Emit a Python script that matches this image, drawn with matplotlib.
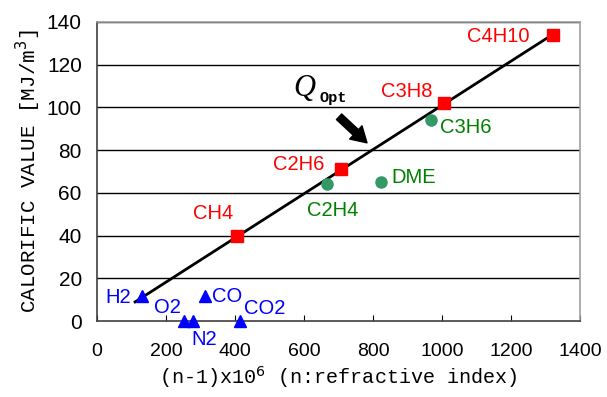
import matplotlib
matplotlib.use("Agg")
import matplotlib.pyplot as plt

# data
red_names = ["CH4", "C2H6", "C3H8", "C4H10"]
red_x = [404, 707, 1005, 1322]
red_y = [40, 71, 102, 134]

green_names = ["C2H4", "DME", "C3H6"]
green_x = [667, 823, 966]
green_y = [64, 65, 94]

blue_names = ["H2", "O2", "N2", "CO", "CO2"]
blue_x = [129, 252, 278, 312, 415]
blue_y = [12, 0, 0, 12, 0]

fit_x = [110, 1322]
fit_y = [9, 134.3]

x_ticks = [0, 200, 400, 600, 800, 1000, 1200, 1400]
y_ticks = [0, 20, 40, 60, 80, 100, 120, 140]

sans = ["Liberation Sans", "DejaVu Sans"]
mono = ["Liberation Mono", "DejaVu Sans Mono"]

fig = plt.figure(figsize=(6.07, 3.97), dpi=100)
ax = fig.add_axes([0.16, 0.191, 0.796, 0.754])

for y in y_ticks[1:]:
    ax.axhline(y, color="black", lw=1.0, zorder=1)

ax.plot(fit_x, fit_y, color="black", lw=2, zorder=2)
ax.plot(red_x, red_y, "s", color="#FF0000", ms=8.5, zorder=3, clip_on=False)
ax.plot(green_x, green_y, "o", color="#339966", ms=8, zorder=3, clip_on=False)
ax.plot(blue_x, blue_y, "^", color="#0000FF", ms=9, zorder=3, clip_on=False)

# label centre offsets in pixels (x right, y up)
red_off = {"CH4": (-23, 22), "C2H6": (-42, 5), "C3H8": (-37, 12), "C4H10": (-55, -2)}
green_off = {"C2H4": (5, -26), "DME": (33, 5), "C3H6": (35, -7)}
blue_off = {"H2": (-23, -2), "O2": (-17, 14), "N2": (11, -18), "CO": (22, -1), "CO2": (24, 13)}

def lab(names, xs, ys, offs, col):
    for n, x, y in zip(names, xs, ys):
        dx, dy = offs[n]
        ax.annotate(n, (x, y), xytext=(dx, dy), textcoords="offset pixels",
                    color=col, fontsize=14.5, family=sans, ha="center", va="center",
                    annotation_clip=False, zorder=4)

lab(red_names, red_x, red_y, red_off, "#FF0000")
lab(green_names, green_x, green_y, green_off, "#008000")
lab(blue_names, blue_x, blue_y, blue_off, "#0000FF")

# Q_opt annotation
ax.text(600, 109.0, "Q", fontsize=22, family=["Liberation Serif", "DejaVu Serif"],
        style="italic", ha="center", va="center", zorder=4)
ax.text(644, 104.3, "Opt", fontsize=11, family=mono, fontweight="bold",
        ha="left", va="center", zorder=4)
ax.annotate("", xy=(782, 83.4), xytext=(701, 95.6),
            arrowprops=dict(arrowstyle="simple,head_width=1.3,head_length=1.1,tail_width=0.55",
                            color="black", shrinkA=0, shrinkB=0), zorder=4)

ax.set_xlim(0, 1400)
ax.set_ylim(0, 140)
ax.set_xticks(x_ticks)
ax.set_yticks(y_ticks)
ax.tick_params(axis="x", direction="in", length=4, pad=16, labelsize=14)
ax.tick_params(axis="y", direction="out", length=0, pad=11, labelsize=15)
for t in ax.get_xticklabels() + ax.get_yticklabels():
    t.set_family(sans)

for s in ["left", "bottom"]:
    ax.spines[s].set_color("#404040")
    ax.spines[s].set_linewidth(1.2)
for s in ["right", "top"]:
    ax.spines[s].set_color("#A0A0A0")
    ax.spines[s].set_linewidth(1.2)

ax.set_xlabel("(n-1)x10$^6$ (n:refractive index)", fontsize=14.5, family=mono, labelpad=3)
ax.set_ylabel("CALORIFIC VALUE [MJ/m$^3$]", fontsize=15, family=mono, labelpad=3)

fig.savefig("out.png", dpi=100)
